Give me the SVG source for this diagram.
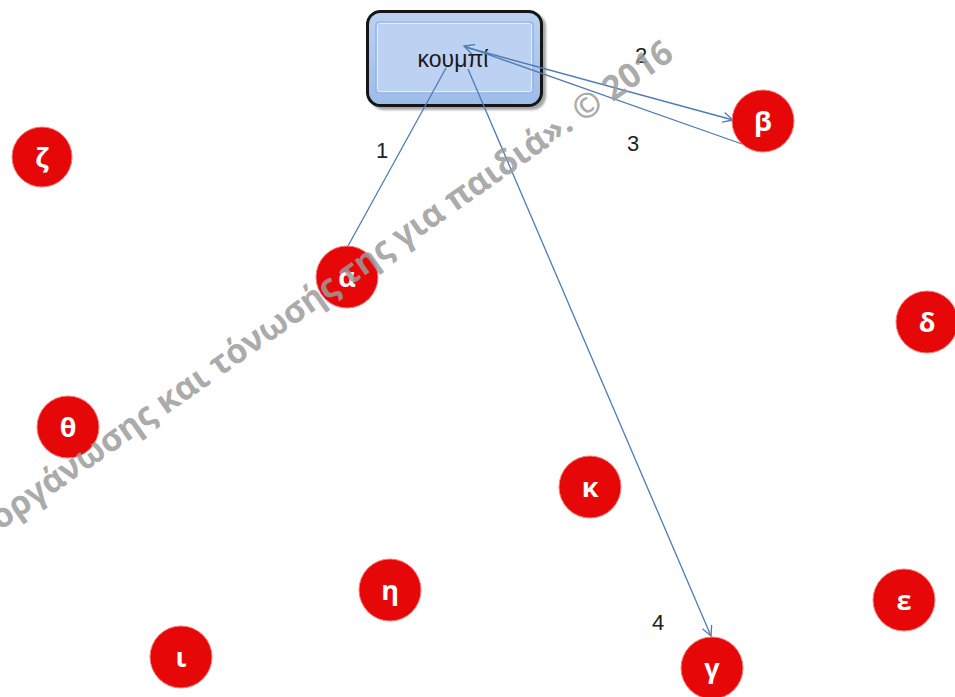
<svg xmlns="http://www.w3.org/2000/svg" width="955" height="697" viewBox="0 0 955 697">
  <defs>
    <linearGradient id="btnFill" x1="0" y1="0" x2="0" y2="1">
      <stop offset="0" stop-color="#bcd2f2"/>
      <stop offset="1" stop-color="#9dbce9"/>
    </linearGradient>
    <marker id="arrow" markerWidth="14" markerHeight="14" refX="11" refY="6" orient="auto" markerUnits="userSpaceOnUse">
      <path d="M1,1 L11,6 L1,11" fill="none" stroke="#4f7bb3" stroke-width="1.3"/>
    </marker>
    <filter id="soft" x="-20%" y="-20%" width="140%" height="140%">
      <feGaussianBlur stdDeviation="1.2"/>
    </filter>
  </defs>
  <style>
    .circ { fill: #e60808; stroke: #f28080; stroke-width: 1; }
    .lbl { font-family: "Open Sans", "DejaVu Sans", sans-serif; font-weight: bold; font-size: 27px; fill: #ffffff; text-anchor: middle; }
    .num { font-family: "Liberation Sans", Arial, sans-serif; font-size: 22px; fill: #222222; }
    .edge { fill: none; stroke: #4f7bb3; stroke-width: 1.3; }
    .wm { font-family: "Open Sans", "DejaVu Sans", sans-serif; font-weight: bold; font-size: 34px; fill: #9c9c9c; fill-opacity: 0.85; }
  </style>
  <rect x="0" y="0" width="955" height="697" fill="#ffffff"/>

  <g id="button">
    <rect x="370" y="13" width="176" height="97" rx="14" fill="#000" opacity="0.35" filter="url(#soft)"/>
    <rect x="367.5" y="11.5" width="174" height="94" rx="13" fill="url(#btnFill)" stroke="#151515" stroke-width="3"/>
    <rect x="376" y="22" width="157" height="71" rx="3" fill="#bdd2f2" stroke="#8fb0e0" stroke-width="1.2"/>
    <rect x="377.5" y="23.5" width="154" height="68" rx="2" fill="none" stroke="#e3ecfa" stroke-width="1"/>
    <text x="453" y="67" font-family="Liberation Sans, Arial, sans-serif" font-size="23" fill="#1a1a1a" text-anchor="middle">κουμπί</text>
  </g>

  <g id="connectors">
    <line class="edge" x1="446" y1="68" x2="348" y2="246"/>
    <line class="edge" x1="465" y1="47" x2="733" y2="120" marker-end="url(#arrow)"/>
    <line class="edge" x1="742" y1="144" x2="464" y2="46" marker-end="url(#arrow)"/>
    <line class="edge" x1="468" y1="69" x2="711" y2="636" marker-end="url(#arrow)"/>
    <text class="num" x="376" y="158">1</text>
    <text class="num" x="635" y="63">2</text>
    <text class="num" x="627" y="151">3</text>
    <text class="num" x="652" y="630">4</text>
  </g>

  <g id="node-zeta"><circle class="circ" cx="42" cy="157" r="30"/><text class="lbl" x="42" y="167">ζ</text></g>
  <g id="node-beta"><circle class="circ" cx="763" cy="121" r="31"/><text class="lbl" x="763" y="131">β</text></g>
  <g id="node-alpha"><circle class="circ" cx="347" cy="277" r="31"/><text class="lbl" x="347" y="287">α</text></g>
  <g id="node-delta"><circle class="circ" cx="927" cy="322" r="31"/><text class="lbl" x="927" y="332">δ</text></g>
  <g id="node-theta"><circle class="circ" cx="68" cy="427" r="31"/><text class="lbl" x="68" y="437">θ</text></g>
  <g id="node-kappa"><circle class="circ" cx="590" cy="487" r="31"/><text class="lbl" x="590" y="497">κ</text></g>
  <g id="node-eta"><circle class="circ" cx="390" cy="590" r="31"/><text class="lbl" x="390" y="600">η</text></g>
  <g id="node-epsilon"><circle class="circ" cx="904" cy="600" r="31"/><text class="lbl" x="904" y="610">ε</text></g>
  <g id="node-iota"><circle class="circ" cx="181" cy="657" r="31"/><text class="lbl" x="181" y="667">ι</text></g>
  <g id="node-gamma"><circle class="circ" cx="712" cy="668" r="31"/><text class="lbl" x="712" y="678">γ</text></g>

  <text class="wm" x="0" y="0" transform="translate(0 531) rotate(-35)" textLength="825" lengthAdjust="spacing">οργάνωσης και τόνωσής της για παιδιά». © 2016</text>
</svg>
